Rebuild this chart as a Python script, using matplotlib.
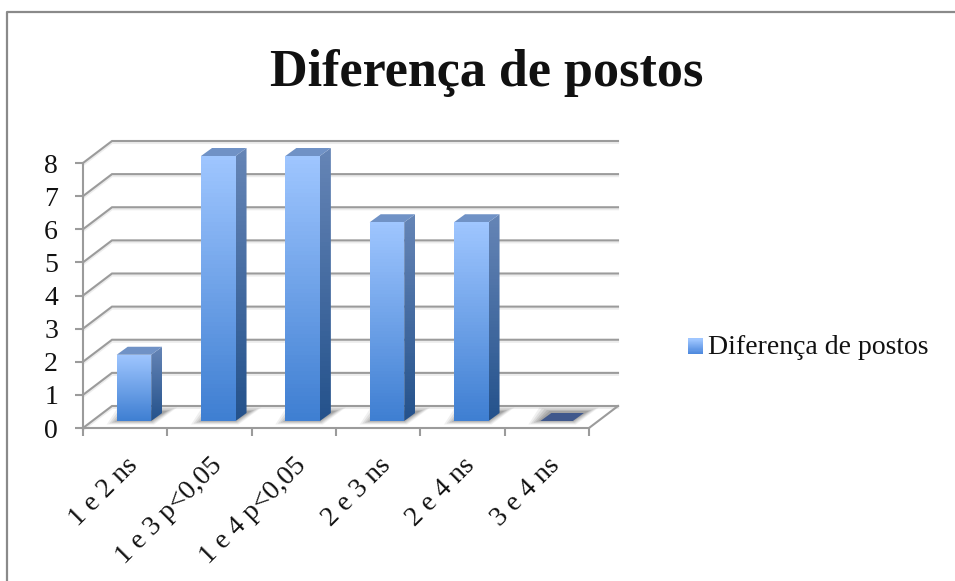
import numpy as np
import matplotlib
matplotlib.use('Agg')
import matplotlib.pyplot as plt
from matplotlib.colors import LinearSegmentedColormap
from matplotlib.legend_handler import HandlerBase
from matplotlib.patches import Polygon, Rectangle

categorias = ['1 e 2 ns', '1 e 3 p<0,05', '1 e 4 p<0,05', '2 e 3 ns', '2 e 4 ns', '3 e 4 ns']
valores = [2, 8, 8, 6, 6, 0]
yticks = [0, 1, 2, 3, 4, 5, 6, 7, 8]
titulo = 'Diferença de postos'

W, H = 955, 581
plt.rcParams['font.family'] = ['Liberation Serif', 'DejaVu Serif']

# eixo em pixels da figura
X0, X1, Y0, Y1 = 83, 589, 428, 163
fig = plt.figure(figsize=(W / 100, H / 100), dpi=100)
ax = fig.add_axes([X0 / W, 1 - Y0 / H, (X1 - X0) / W, (Y0 - Y1) / H])
ax.patch.set_alpha(0)
n = len(categorias)

ux = (X1 - X0) / n
uy = (Y0 - Y1) / 8
DX, DY = 29 / ux, 22 / uy  # profundidade da parede


def grad(cores):
    return LinearSegmentedColormap.from_list('g', cores)


frente = grad(['#3f7fd2', '#9fc6ff'])
lado = grad(['#24528c', '#6685b6'])


def face(pts, cmap, base, topo, z=3):
    # preenche um poligono com gradiente vertical
    pts = np.array(pts)
    im = ax.imshow(np.linspace(0, 1, 64)[:, None], cmap=cmap, origin='lower', aspect='auto',
                   extent=[pts[:, 0].min(), pts[:, 0].max(), base, topo], zorder=z)
    p = Polygon(pts, transform=ax.transData, fc='none', ec='none', clip_on=False)
    ax.add_patch(p)
    im.set_clip_on(True)
    im.set_clip_box(fig.bbox)
    im.set_clip_path(p)


# paredes e grade
for v in yticks:
    ax.plot([0, DX, n + DX], [v - 2 / uy, v + DY - 2 / uy, v + DY - 2 / uy], color='#ececec', lw=1.5,
            clip_on=False, zorder=0.9, solid_joinstyle='miter')
    ax.plot([0, DX, n + DX], [v, v + DY, v + DY], color='#9b9b9b', lw=1.5,
            clip_on=False, zorder=1, solid_joinstyle='miter')
ax.plot([n, n + DX], [0, DY], color='#9b9b9b', lw=1.5, clip_on=False, zorder=1)

# barras
bw = 34.5 / ux
px, py = 11 / ux, 8 / uy
off = 7 / uy
for i, v in enumerate(valores):
    x0 = i + (116.7 - X0) / ux
    x1 = x0 + bw
    y0 = off
    y1 = off + v
    # sombra no chao
    for k, a in zip([10, 7.5, 5, 2.5, 0], [0.10, 0.14, 0.18, 0.22, 0.26]):
        s = k / ux
        t = k * 0.35 / uy
        ax.add_patch(Polygon([(x0 - s, y0 - t), (x1 + s * 0.3, y0 - t),
                              (x1 + px + 5 / ux + s, y0 + py + 2 / uy + t), (x0 + px - s, y0 + py + 2 / uy + t)],
                             fc='#6f6f6f', ec='none', alpha=a, zorder=2, clip_on=False))
    if v == 0:
        ax.add_patch(Polygon([(x0 + 2 / ux, y0), (x1, y0), (x1 + px, y0 + py), (x0 + px + 2 / ux, y0 + py)],
                             fc='#40588c', ec='none', zorder=3, clip_on=False))
        continue
    face([(x0, y0), (x1, y0), (x1, y1), (x0, y1)], frente, y0, y1, z=4)
    face([(x1, y0), (x1 + px, y0 + py), (x1 + px, y1 + py), (x1, y1)], lado, y0, y1 + py, z=3)
    ax.add_patch(Polygon([(x0, y1), (x1, y1), (x1 + px, y1 + py), (x0 + px, y1 + py)],
                         fc='#7092c6', ec='none', zorder=3, clip_on=False))
ax.set_xlim(0, n)
ax.set_ylim(0, 8)

# eixos
for lado_ax in ['top', 'right']:
    ax.spines[lado_ax].set_visible(False)
for lado_ax in ['left', 'bottom']:
    ax.spines[lado_ax].set_color('#9b9b9b')
    ax.spines[lado_ax].set_linewidth(1.5)
ax.set_yticks(yticks)
ax.set_xticks(np.arange(n + 1))
ax.set_xticklabels([])
ax.set_xticks(np.arange(n) + 0.5, labels=categorias, minor=True,
              rotation=45, ha='right', rotation_mode='anchor')
ax.tick_params(axis='both', which='major', color='#9b9b9b', width=1.5, length=6)
ax.tick_params(axis='y', labelsize=20, pad=12, labelcolor='#111111')
ax.tick_params(axis='x', which='minor', length=0, labelsize=20, pad=18, labelcolor='#111111')

fig.text(487 / W, 1 - 73 / H, titulo, fontsize=37.5, fontweight='bold', ha='center', va='center', color='#111111')


class Gradiente(HandlerBase):
    def create_artists(self, legend, orig, xd, yd, width, height, fontsize, trans):
        m = 14
        cores = grad(['#4f8ade', '#9fc6ff'])
        tiras = []
        for i in range(m):
            r = Rectangle((0, i / m * 10.8), 10.8, 10.8 / m + 0.2, fc=cores(i / (m - 1)), ec='none', transform=trans)
            tiras.append(r)
        return tiras


leg = ax.legend([Rectangle((0, 0), 1, 1)], [titulo], handler_map={Rectangle: Gradiente()},
                loc='center left', bbox_to_anchor=((688 - X0) / (X1 - X0), (Y0 - 347) / (Y0 - Y1)),
                frameon=False, fontsize=20, handlelength=0.54, handletextpad=0.18, borderpad=0, borderaxespad=0,
                labelcolor='#111111')

# moldura do grafico
fig.add_artist(plt.Line2D([7 / W, 7 / W, 1], [0, 1 - 12 / H, 1 - 12 / H], color='#8a8a8a', lw=1.6,
                          transform=fig.transFigure))

fig.savefig('out.png', dpi=100)
